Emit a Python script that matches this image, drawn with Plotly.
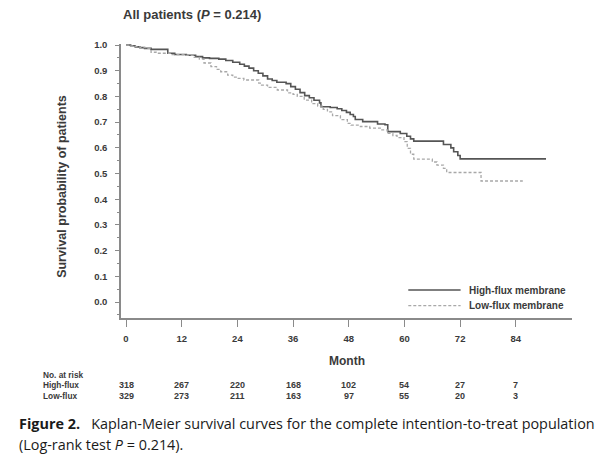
import plotly.graph_objects as go

# ---- data ----
high_t = [0, 1, 2, 3, 4, 5.4, 9.0, 10.5, 13, 15, 16.5, 18, 20, 21.5, 23, 24.5, 25.5, 26.5,
          27.5, 28.5, 29.5, 30.5, 31.5, 32.5, 34.5, 35.5, 36.5, 37.5, 38.5, 39.5, 40.5,
          41.7, 42.0, 44.0, 45.5, 46.5, 47.5, 48.3, 49.0, 49.4, 51.0, 54.2, 55.8, 56.4,
          59.1, 60.5, 61.3, 62.0, 68.4, 70.0, 70.6, 71.5, 72.0, 90.5]
high_s = [1.0, 0.997, 0.993, 0.990, 0.987, 0.983, 0.968, 0.963, 0.960, 0.955, 0.950, 0.948,
          0.945, 0.940, 0.933, 0.925, 0.918, 0.910, 0.900, 0.890, 0.880, 0.868, 0.862, 0.855,
          0.850, 0.838, 0.828, 0.815, 0.803, 0.795, 0.785, 0.775, 0.760, 0.757, 0.752, 0.745,
          0.738, 0.730, 0.722, 0.710, 0.702, 0.693, 0.690, 0.663, 0.656, 0.645, 0.635, 0.626,
          0.613, 0.600, 0.585, 0.570, 0.557, 0.557]

low_t = [0, 1, 2, 3, 4.7, 5.4, 6.5, 9.5, 12.5, 14.7, 15.8, 16.8, 18.3, 19.5, 20.4, 21.9, 23,
         24, 25.4, 28.6, 29.2, 30.5, 32.6, 34.8, 36.0, 36.9, 38.4, 40.0, 41.3, 42.5, 43.4,
         44.5, 46.2, 47.7, 48.5, 50.5, 52.5, 54.8, 56.3, 57.5, 58.4, 59.9, 60.6, 61.3, 62.0,
         66.0, 67.0, 68.4, 69.1, 76.5, 85.5]
low_s = [1.0, 0.997, 0.994, 0.990, 0.987, 0.972, 0.968, 0.963, 0.960, 0.952, 0.945, 0.930,
         0.916, 0.905, 0.896, 0.883, 0.875, 0.870, 0.864, 0.852, 0.844, 0.835, 0.825, 0.814,
         0.808, 0.800, 0.786, 0.772, 0.762, 0.750, 0.740, 0.725, 0.710, 0.695, 0.688, 0.683,
         0.677, 0.670, 0.656, 0.648, 0.640, 0.624, 0.598, 0.575, 0.556, 0.545, 0.533, 0.520,
         0.504, 0.471, 0.471]

risk_months = [0, 12, 24, 36, 48, 60, 72, 84]
risk_high = [318, 267, 220, 168, 102, 54, 27, 7]
risk_low = [329, 273, 211, 163, 97, 55, 20, 3]

series_names = ["High-flux membrane", "Low-flux membrane"]

FONT = "Liberation Sans"
TXT = "#3a3a3a"
HIGH_LINE = dict(color="#555555", width=1.6)
LOW_LINE = dict(color="#a8a8a8", width=1.3, dash="3px,2px")

fig = go.Figure()
fig.add_trace(go.Scatter(x=high_t, y=high_s, mode="lines", line_shape="hv",
                         name=series_names[0], showlegend=False, line=HIGH_LINE))
fig.add_trace(go.Scatter(x=low_t, y=low_s, mode="lines", line_shape="hv",
                         name=series_names[1], showlegend=False, line=LOW_LINE))

annotations = []
shapes = []
# legend (drawn in the bottom-right corner of the plot area)
for name, line, yy in [(series_names[0], HIGH_LINE, 0.102), (series_names[1], LOW_LINE, 0.045)]:
    shapes.append(dict(type="line", xref="paper", yref="paper", x0=0.637, x1=0.753,
                       y0=yy, y1=yy, line=line))
    annotations.append(dict(text="<b>%s</b>" % name, x=0.768, y=yy, xref="paper",
                            yref="paper", xanchor="left", yanchor="middle", showarrow=False,
                            font=dict(family=FONT, size=10, color=TXT)))
# title
annotations.append(dict(text="<b>All patients (<i>P</i> = 0.214)</b>", x=0.0, y=1.109,
                        xref="paper", yref="paper", xanchor="left", yanchor="middle",
                        showarrow=False, font=dict(family=FONT, size=13, color=TXT)))
# y title
annotations.append(dict(text="<b>Survival probability of patients</b>", x=-0.130, y=0.48,
                        xref="paper", yref="paper", xanchor="center", yanchor="middle",
                        textangle=-90, showarrow=False,
                        font=dict(family=FONT, size=12.5, color=TXT)))
# x title
annotations.append(dict(text="<b>Month</b>", x=0.5, y=-0.158, xref="paper", yref="paper",
                        xanchor="center", yanchor="middle", showarrow=False,
                        font=dict(family=FONT, size=12, color=TXT)))
# risk table labels
for label, yy in [("No. at risk", -0.208), ("High-flux", -0.246), ("Low-flux", -0.283)]:
    annotations.append(dict(text="<b>%s</b>" % label, x=-0.178, y=yy, xref="paper",
                            yref="paper", xanchor="left", yanchor="middle", showarrow=False,
                            font=dict(family=FONT, size=8.3, color=TXT)))
for m, h, l in zip(risk_months, risk_high, risk_low):
    annotations.append(dict(text="<b>%d</b>" % h, x=m, y=-0.246, xref="x", yref="paper",
                            xanchor="center", yanchor="middle", showarrow=False,
                            font=dict(family=FONT, size=9, color=TXT)))
    annotations.append(dict(text="<b>%d</b>" % l, x=m, y=-0.283, xref="x", yref="paper",
                            xanchor="center", yanchor="middle", showarrow=False,
                            font=dict(family=FONT, size=9, color=TXT)))
# caption
annotations.append(dict(text="<b>Figure 2.</b>   Kaplan-Meier survival curves for the complete intention-to-treat population",
                        x=-0.2306, y=-0.385, xref="paper", yref="paper", xanchor="left",
                        yanchor="middle", showarrow=False,
                        font=dict(family="Open Sans", size=14.4, color="#1a1a1a")))
annotations.append(dict(text="(Log-rank test <i>P</i> = 0.214).",
                        x=-0.2306, y=-0.460, xref="paper", yref="paper", xanchor="left",
                        yanchor="middle", showarrow=False,
                        font=dict(family="Open Sans", size=14.4, color="#1a1a1a")))

fig.update_layout(
    width=607, height=462,
    margin=dict(l=121, r=35, t=44, b=144),
    paper_bgcolor="white", plot_bgcolor="white",
    showlegend=False,
    annotations=annotations,
    shapes=shapes,
    xaxis=dict(range=[-1.08, 96.1], tickmode="array", tickvals=risk_months,
               ticktext=["<b>%d</b>" % m for m in risk_months],
               showline=True, linecolor="#8a8a8a", linewidth=1.5,
               ticks="outside", ticklen=7, tickwidth=1.3, tickcolor="#8a8a8a",
               showgrid=False, zeroline=False, ticklabelstandoff=4,
               tickfont=dict(family=FONT, size=9.5, color=TXT)),
    yaxis=dict(range=[-0.062, 1.004], tickmode="linear", tick0=0, dtick=0.1,
               tickformat=".1f",
               showline=True, linecolor="#8a8a8a", linewidth=1.5,
               ticks="outside", ticklen=4, tickwidth=1.2, tickcolor="#8a8a8a",
               minor=dict(ticks="outside", ticklen=2.5, tickcolor="#8a8a8a", dtick=0.05,
                          tick0=0, showgrid=False),
               showgrid=False, zeroline=False, ticklabelstandoff=6,
               tickfont=dict(family=FONT, size=9.5, color=TXT)),
)
fig.update_yaxes(tickprefix="<b>", ticksuffix="</b>")

fig.write_html("out.html", config={"displayModeBar": False},
               post_script="document.body.style.margin='0';")
